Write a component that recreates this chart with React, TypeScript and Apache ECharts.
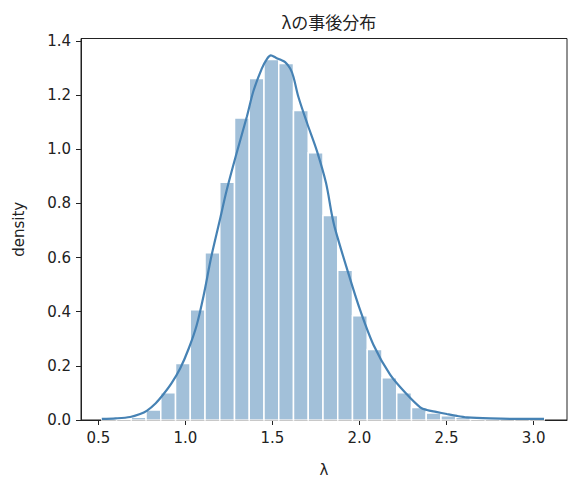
import React, { useEffect, useRef } from "react";
import * as echarts from "echarts";

const binStart = 0.52;
const binWidth = 0.0847;
const binHeights = [
  0.001, 0.003, 0.01, 0.037, 0.101, 0.209, 0.407, 0.618, 0.878, 1.115,
  1.261, 1.331, 1.317, 1.143, 0.987, 0.755, 0.553, 0.385, 0.26, 0.156,
  0.101, 0.0465, 0.0256, 0.016, 0.01, 0.005, 0.003, 0.002, 0.001, 0.001,
];
const kdeX = [
  0.52, 0.6, 0.683, 0.74, 0.778, 0.83, 0.874, 0.92, 0.97, 1.02, 1.065, 1.105,
  1.148, 1.195, 1.238, 1.295, 1.353, 1.391, 1.439, 1.47, 1.491, 1.52, 1.544,
  1.573, 1.602, 1.621, 1.649, 1.7, 1.755, 1.808, 1.841, 1.86, 1.928, 2.0,
  2.08, 2.176, 2.272, 2.349, 2.387, 2.44, 2.502, 2.56, 2.617, 2.751, 2.9,
  3.06,
];
const kdeY = [
  0.004, 0.006, 0.011, 0.022, 0.034, 0.062, 0.095, 0.135, 0.19, 0.265, 0.35,
  0.46, 0.6, 0.73, 0.85, 0.987, 1.12, 1.215, 1.298, 1.335, 1.347, 1.338,
  1.331, 1.322, 1.298, 1.267, 1.194, 1.095, 0.995, 0.875, 0.76, 0.706, 0.559,
  0.413, 0.278, 0.168, 0.095, 0.047, 0.037, 0.03, 0.022, 0.015, 0.01, 0.006,
  0.004, 0.004,
];
const xTicks = [0.5, 1.0, 1.5, 2.0, 2.5, 3.0];
const yTicks = [0, 0.2, 0.4, 0.6, 0.8, 1.0, 1.2, 1.4];
const titleText = "λの事後分布";
const xName = "λ";
const yName = "density";

const FONT = "'DejaVu Sans', 'Noto Sans CJK JP', sans-serif";

export default function App() {
  const ref = useRef<HTMLDivElement>(null);
  useEffect(() => {
    if (!ref.current) return;
    const chart = echarts.init(ref.current, null, { renderer: "svg" });
    const histData = binHeights.map((h, i) => [
      binStart + i * binWidth,
      binStart + (i + 1) * binWidth,
      h,
    ]);
    const kdeData = kdeX.map((x, i) => [x, kdeY[i]]);
    chart.setOption({
      animation: false,
      title: {
        text: titleText,
        left: 324,
        top: 8,
        textAlign: "center",
        textStyle: {
          fontFamily: "'Noto Sans CJK JP', sans-serif",
          fontSize: 17,
          fontWeight: "normal",
          color: "#222",
        },
      },
      grid: {
        left: 81,
        right: 18,
        top: 38.5,
        bottom: 59.3,
        show: true,
        borderColor: "#222",
        borderWidth: 1,
        backgroundColor: "transparent",
      },
      xAxis: {
        type: "value",
        min: 0.4006,
        max: 3.192,
        name: xName,
        nameLocation: "middle",
        nameGap: 42,
        nameTextStyle: { fontFamily: FONT, fontSize: 15, color: "#222" },
        axisLine: { show: true, lineStyle: { color: "#222", width: 1 } },
        axisTick: {
          show: true,
          length: 5,
          customValues: xTicks,
          lineStyle: { color: "#222" },
        },
        axisLabel: {
          customValues: xTicks,
          formatter: (v: number) => v.toFixed(1),
          fontFamily: FONT,
          fontSize: 15,
          color: "#222",
          margin: 10,
        },
        splitLine: { show: false },
      },
      yAxis: {
        type: "value",
        min: 0,
        max: 1.409,
        name: yName,
        nameLocation: "middle",
        nameGap: 55,
        nameTextStyle: { fontFamily: FONT, fontSize: 15, color: "#222" },
        axisLine: { show: true, lineStyle: { color: "#222", width: 1 } },
        axisTick: {
          show: true,
          length: 5,
          customValues: yTicks,
          lineStyle: { color: "#222" },
        },
        axisLabel: {
          customValues: yTicks,
          formatter: (v: number) => v.toFixed(1),
          fontFamily: FONT,
          fontSize: 15,
          color: "#222",
          margin: 10,
        },
        splitLine: { show: false },
      },
      series: [
        {
          type: "custom",
          data: histData,
          encode: { x: [0, 1], y: 2 },
          renderItem: (params: any, api: any) => {
            const x0 = api.value(0);
            const x1 = api.value(1);
            const h = api.value(2);
            const p0 = api.coord([x0, h]);
            const p1 = api.coord([x1, 0]);
            return {
              type: "rect",
              shape: {
                x: p0[0],
                y: p0[1],
                width: p1[0] - p0[0],
                height: p1[1] - p0[1],
              },
              style: {
                fill: "rgba(70,130,180,0.5)",
                stroke: "#ffffff",
                lineWidth: 1.5,
              },
            };
          },
          z: 2,
        },
        {
          type: "line",
          data: kdeData,
          smooth: 0.3,
          showSymbol: false,
          lineStyle: { color: "#4682b4", width: 2.2 },
          z: 3,
        },
      ],
    });
    return () => chart.dispose();
  }, []);
  return (
    <div
      ref={ref}
      style={{ position: "absolute", left: 0, top: 0, width: 585, height: 482 }}
    />
  );
}
